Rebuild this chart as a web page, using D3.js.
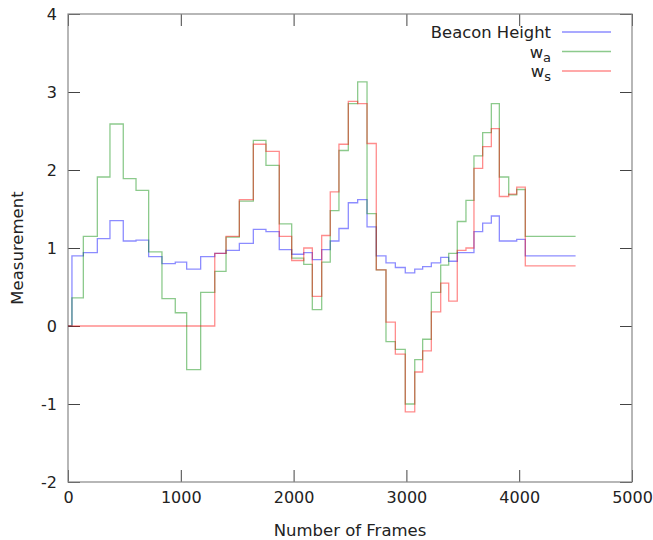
<!DOCTYPE html>
<html>
<head>
<meta charset="utf-8">
<script src="https://cdn.jsdelivr.net/npm/d3@7"></script>
<style>
  body { margin: 0; background: #fff; }
  text { font-family: "DejaVu Sans", sans-serif; }
</style>
</head>
<body>
<div id="chart"></div>
<script>
// step start positions (frames), last entry is where the lines stop
const frames = [0, 35, 136, 260, 372, 490, 603, 715, 833, 951, 1052, 1176, 1301, 1401, 1519, 1643,
    1755, 1873, 1983, 2090, 2166, 2249, 2325, 2402, 2485, 2568, 2651, 2733, 2819, 2902, 2990,
    3074, 3144, 3221, 3304, 3375, 3451, 3528, 3599, 3676, 3753, 3824, 3907, 3978, 4054, 4500];

const beaconHeight = [0, 0.90, 0.94, 1.12, 1.35, 1.09, 1.10, 0.89, 0.80, 0.82, 0.73, 0.89, 0.93, 0.97, 1.06,
    1.24, 1.21, 0.98, 0.92, 0.94, 0.85, 0.98, 1.09, 1.25, 1.58, 1.62, 1.27, 0.90, 0.81, 0.75,
    0.68, 0.73, 0.76, 0.81, 0.88, 0.83, 0.94, 0.94, 1.21, 1.32, 1.41, 1.09, 1.09, 1.11, 0.90];

const wa = [0, 0.36, 1.15, 1.91, 2.59, 1.89, 1.74, 0.95, 0.35, 0.17, -0.56, 0.43, 0.70, 1.14, 1.60,
    2.38, 2.06, 1.31, 0.87, 0.79, 0.21, 0.82, 1.48, 2.25, 2.85, 3.13, 1.44, 0.72, -0.20, -0.30,
    -1.00, -0.43, -0.17, 0.43, 0.78, 0.93, 1.34, 1.61, 2.18, 2.48, 2.85, 1.91, 1.68, 1.75, 1.15];

const ws = [0, 0, 0, 0, 0, 0, 0, 0, 0, 0, 0, 0, 0.93, 1.15, 1.62,
    2.33, 2.24, 1.15, 0.84, 1.00, 0.38, 1.16, 1.72, 2.33, 2.88, 2.85, 2.34, 0.72, 0.05, -0.36,
    -1.10, -0.59, -0.32, 0.18, 0.55, 0.32, 0.97, 1.00, 2.02, 2.30, 2.53, 1.66, 1.69, 1.78, 0.77];

const xTicks = [0, 1000, 2000, 3000, 4000, 5000];
const yTicks = [-2, -1, 0, 1, 2, 3, 4];

const series = [
    { name: "Beacon Height", sub: null, values: beaconHeight, color: "#0000ff" },
    { name: "w", sub: "a", values: wa, color: "#008a00" },
    { name: "w", sub: "s", values: ws, color: "#ff0000" }
];

function main() {
    const canvasWidth = 653;
    const canvasHeight = 540;
    const margin = { top: 14, right: 21, bottom: 58, left: 68 };
    const width = canvasWidth - margin.left - margin.right;
    const height = canvasHeight - margin.top - margin.bottom;

    const svg = d3.select("#chart").append("svg")
        .attr("width", canvasWidth)
        .attr("height", canvasHeight);

    const g = svg.append("g")
        .attr("transform", "translate(" + margin.left + "," + margin.top + ")");

    const x = d3.scaleLinear().domain([0, 5000]).range([0, width]);
    const y = d3.scaleLinear().domain([-2, 4]).range([height, 0]);

    const plain = d => String(d);

    // axes with inward ticks on all four sides
    const styleAxis = sel => {
        sel.select(".domain").remove();
        sel.selectAll(".tick line").attr("stroke", "#444");
        sel.selectAll("text").style("font-size", "16px").attr("fill", "#222")
            .style("font-family", "'DejaVu Sans', sans-serif");
    };

    g.append("g")
        .attr("transform", "translate(0," + height + ")")
        .call(d3.axisBottom(x).tickValues(xTicks).tickFormat(plain).tickSize(-12).tickPadding(10))
        .call(styleAxis);

    g.append("g")
        .call(d3.axisLeft(y).tickValues(yTicks).tickFormat(plain).tickSize(-12).tickPadding(11))
        .call(styleAxis);

    g.append("g")
        .call(d3.axisTop(x).tickValues(xTicks).tickSize(-12).tickFormat(""))
        .call(styleAxis);

    g.append("g")
        .attr("transform", "translate(" + width + ",0)")
        .call(d3.axisRight(y).tickValues(yTicks).tickSize(-12).tickFormat(""))
        .call(styleAxis);

    g.append("rect")
        .attr("width", width)
        .attr("height", height)
        .attr("fill", "none")
        .attr("stroke", "#888")
        .attr("stroke-width", 1.2);

    // step lines
    const line = d3.line()
        .x(d => x(d[0]))
        .y(d => y(d[1]))
        .curve(d3.curveStepAfter);

    series.forEach(s => {
        const pts = s.values.map((v, i) => [frames[i], v]);
        pts.push([frames[frames.length - 1], s.values[s.values.length - 1]]);
        g.append("path")
            .datum(pts)
            .attr("fill", "none")
            .attr("stroke", s.color)
            .attr("stroke-opacity", 0.45)
            .attr("stroke-width", 1.3)
            .attr("d", line);
    });

    // axis titles
    svg.append("text")
        .attr("x", margin.left + width / 2)
        .attr("y", 536)
        .attr("text-anchor", "middle")
        .style("font-size", "16.5px")
        .attr("fill", "#222")
        .text("Number of Frames");

    svg.append("text")
        .attr("transform", "translate(23," + (margin.top + height / 2) + ") rotate(-90)")
        .attr("text-anchor", "middle")
        .style("font-size", "16.5px")
        .attr("fill", "#222")
        .text("Measurement");

    // legend
    const legend = svg.append("g");
    series.forEach((s, i) => {
        const ly = 32 + i * 19.5;
        const t = legend.append("text")
            .attr("x", 551)
            .attr("y", ly + 6)
            .attr("text-anchor", "end")
            .style("font-size", "16.4px")
            .attr("fill", "#222");
        t.append("tspan").text(s.name);
        if (s.sub) {
            t.append("tspan").attr("dy", 4).style("font-size", "13px").text(s.sub);
        }
        legend.append("line")
            .attr("x1", 562).attr("x2", 611)
            .attr("y1", ly).attr("y2", ly)
            .attr("stroke", s.color)
            .attr("stroke-opacity", 0.45)
            .attr("stroke-width", 1.3);
    });
}
main();
</script>
</body>
</html>
